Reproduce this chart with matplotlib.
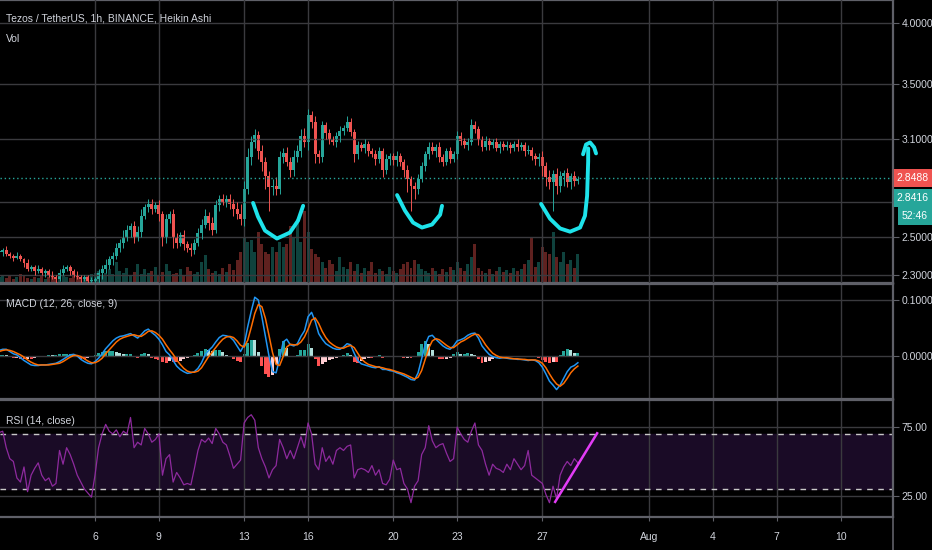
import numpy as np
import matplotlib
matplotlib.use('Agg')
from matplotlib import pyplot as plt
from matplotlib.lines import Line2D
from matplotlib.ticker import NullLocator

plt.rcParams['font.family'] = ['Liberation Sans', 'DejaVu Sans']

# ---- data (4h steps, x in day-of-July, Aug 1 = 32) ----
start_day = 1.5
step = 1 / 6

close = [2.42, 2.43, 2.41, 2.40, 2.39, 2.40, 2.38, 2.36, 2.33, 2.34,
         2.32, 2.33, 2.31, 2.32, 2.30, 2.29, 2.28, 2.31, 2.33, 2.34,
         2.32, 2.30, 2.29, 2.28, 2.29, 2.27, 2.27, 2.28, 2.31, 2.33,
         2.35, 2.38, 2.40, 2.44, 2.47, 2.50, 2.54, 2.56, 2.50, 2.53,
         2.62, 2.67, 2.69, 2.66, 2.68, 2.63, 2.50, 2.60, 2.63, 2.50,
         2.47, 2.51, 2.46, 2.44, 2.43, 2.47, 2.52, 2.57, 2.62, 2.58,
         2.54, 2.68, 2.72, 2.70, 2.72, 2.69, 2.66, 2.63, 2.60, 2.78,
         2.98, 3.08, 3.13, 3.02, 2.95, 2.86, 2.79, 2.80, 2.78, 2.98,
         3.01, 2.95, 2.90, 2.98, 3.02, 3.12, 3.08, 3.27, 3.22, 3.00,
         2.98, 3.20, 3.14, 3.10, 3.08, 3.12, 3.16, 3.18, 3.22, 3.15,
         3.00, 3.06, 3.04, 3.07, 3.02, 3.00, 2.97, 3.02, 2.90, 2.97,
         2.99, 2.96, 2.99, 2.95, 2.90, 2.84, 2.80, 2.78, 2.84, 2.92,
         3.00, 3.05, 3.02, 3.05, 2.98, 2.95, 3.02, 2.97, 3.00, 3.12,
         3.09, 3.06, 3.08, 3.20, 3.17, 3.10, 3.05, 3.09, 3.06, 3.08,
         3.04, 3.07, 3.05, 3.06, 3.04, 3.07, 3.05, 3.06, 3.02, 3.03,
         2.99, 2.97, 2.98, 2.92, 2.85, 2.82, 2.87, 2.80, 2.86, 2.88,
         2.82, 2.86, 2.83, 2.84]

# wick lengths above / below the body, in cents
wick_up = [1, 1, 2, 1, 1, 2, 1, 1, 2, 1, 1, 2, 1, 1, 1, 2, 1, 2, 2, 1, 1, 1, 2, 1, 1, 1, 2, 1,
           2, 2, 3, 2, 2, 3, 2, 4, 3, 2, 3, 3, 4, 2, 3, 3, 2, 3, 2, 3,
           2, 3, 2, 2, 3, 2, 3, 2, 3, 3, 4, 2, 3, 3, 2, 3, 2, 3, 3, 4, 6,
           5, 6, 4, 4, 3, 4, 3, 3, 4, 5, 4, 3,
           4, 3, 5, 4, 5, 6, 4, 3, 4, 3,
           3, 2, 3, 2, 3, 3, 2, 4, 3, 2, 3, 2, 3, 2, 2, 3, 3, 2, 3, 2,
           2, 3, 2, 2, 3, 2, 2, 3, 3, 2, 3, 3, 2, 3, 2, 2, 3, 2, 4, 3,
           2, 3, 4, 3, 2, 2, 3, 2, 2, 3, 2, 2, 3, 2, 2, 3, 2,
           2, 3, 2, 2, 3, 4, 3, 5, 3, 4, 3, 2, 3, 2, 3, 2]
wick_dn = [1, 2, 1, 1, 2, 1, 1, 2, 1, 1, 2, 1, 1, 2, 1, 1, 2, 1, 1, 1, 2, 1, 1, 2, 1, 1, 1, 2,
           2, 3, 2, 2, 3, 2, 2, 3, 2, 4, 3, 2, 3, 2, 3, 3, 2, 4, 5, 3, 2, 6,
           3, 2, 3, 2, 3, 2, 2, 3, 2, 4, 3, 2, 3, 2, 3, 3, 4, 3, 3,
           4, 3, 5, 4, 5, 6, 8, 14, 5, 4, 3, 4,
           3, 5, 4, 3, 4, 3, 5, 4, 6, 4,
           3, 4, 3, 2, 3, 4, 3, 2, 3, 5, 3, 2, 3, 3, 2, 4, 3, 5, 3, 4,
           3, 4, 3, 5, 8, 15, 6, 3, 2, 3, 3, 2, 4, 3, 3, 2, 3, 2, 3, 3,
           2, 3, 2, 3, 4, 3, 2, 3, 2, 2, 3, 2, 2, 3, 2, 3, 2,
           3, 2, 3, 4, 5, 6, 5, 4, 17, 5, 4, 6, 3, 4, 3, 2]

volume = [6, 8, 5, 7, 4, 6, 9, 7, 5, 4, 6, 5, 7, 4, 6, 8, 5, 4, 7, 6,
          5, 8, 6, 4, 5, 7, 9, 10,
          12, 8, 10, 14, 9, 20, 12, 10, 15, 8, 11, 18, 9, 14, 10, 12, 16, 8, 11, 18,
          12, 9, 10, 14, 8, 16, 12, 9, 11, 20, 27, 14, 10, 12, 9, 15, 11, 18, 13, 22, 30,
          45, 40, 42, 30, 50, 38, 30, 28, 35, 30, 40, 35,
          38, 55, 45, 62, 40, 70, 50, 33, 28, 25,
          20, 15, 22, 18, 12, 25, 16, 14, 20, 12, 18, 10, 15, 12, 20, 10, 14, 12, 9, 16,
          12, 10, 14, 18, 20, 15, 22, 18, 14, 12, 10, 15, 12, 9, 14, 11, 16, 13, 20, 15,
          12, 18, 25, 38, 15, 12, 10, 14, 9, 12, 16, 11, 13, 10, 15, 12, 14,
          18, 22, 45, 16, 20, 35, 30, 28, 50, 25, 20, 30, 18, 22, 15, 28]

macd = [10, 12, 12, 8, 4, 2, -3, -8, -12, -16, -17, -17, -16, -16, -15, -14, -13, -10, -6, -2,
        2, 3, 0, -6, -10, -13, -14, -10, -4, 4, 13, 20, 27, 32, 35, 36, 38, 40, 36, 32,
        38, 45, 48, 42, 37, 30, 20, 8, 2, -8, -18, -24, -28, -31, -30, -28, -22, -12, 2, 10,
        16, 25, 33, 37, 36, 34, 28, 18, 8, 20, 52, 80, 105, 100, 70, 35, 0, -28, -30, -5,
        25, 30, 20, 18, 22, 35, 45, 70, 78, 62, 40, 30, 22, 18, 14, 12, 12, 16, 22, 20,
        5, -8, -14, -16, -18, -20, -21, -19, -24, -24, -26, -27, -30, -32, -35, -38, -42, -43, -30, -5,
        20, 35, 37, 30, 24, 18, 14, 12, 18, 27, 29, 32, 37, 40, 41, 32, 18, 10, 3, -1,
        -3, -4, -3, -4, -5, -5, -6, -6, -7, -8, -7, -8, -12, -20, -32, -45, -52, -60, -52, -40,
        -28, -20, -17, -12]

signal = [8, 10, 11, 10, 8, 5, 2, -2, -7, -11, -14, -16, -16, -16, -16, -15, -14, -13, -10, -6,
          -2, 1, 1, -1, -5, -9, -12, -12, -9, -4, 4, 11, 18, 25, 30, 33, 35, 37, 38, 36,
          35, 39, 44, 45, 42, 37, 30, 20, 11, 3, -7, -15, -22, -27, -29, -29, -27, -21, -11, -1,
          7, 15, 23, 30, 34, 35, 33, 27, 19, 16, 28, 51, 76, 92, 88, 67, 37, 6, -15, -17,
          -1, 16, 21, 20, 20, 25, 34, 48, 64, 68, 58, 44, 33, 25, 20, 16, 14, 14, 17, 19,
          15, 5, -5, -11, -15, -17, -19, -20, -21, -23, -24, -26, -28, -30, -32, -35, -38, -41, -38, -26,
          -6, 14, 27, 31, 29, 24, 19, 15, 15, 20, 25, 28, 32, 36, 39, 38, 30, 20, 12, 5,
          1, -2, -3, -3, -4, -5, -5, -6, -6, -7, -7, -7, -9, -13, -21, -32, -42, -50, -54, -49,
          -40, -30, -23, -18]

rsi = [71, 72, 60, 52, 50, 38, 35, 46, 28, 40, 45, 49, 40, 36, 38, 32, 34, 58, 48, 60,
       55, 48, 40, 35, 30, 27, 24, 40, 60, 70, 77, 72, 70, 73, 68, 72, 70, 82, 60, 64,
       62, 74, 70, 64, 66, 70, 40, 52, 55, 35, 42, 38, 33, 34, 33, 45, 58, 66, 64, 67,
       63, 74, 70, 64, 62, 54, 45, 48, 51, 78, 82, 84, 80, 60, 52, 46, 38, 44, 47, 66,
       60, 52, 58, 52, 60, 68, 60, 78, 70, 48, 44, 60, 50, 54, 48, 58, 60, 58, 61, 62,
       38, 44, 45, 44, 42, 47, 40, 44, 34, 33, 37, 51, 44, 45, 34, 30, 20, 32, 36, 55,
       60, 76, 65, 60, 62, 63, 56, 50, 52, 75, 70, 66, 64, 72, 78, 62, 58, 48, 40, 48,
       45, 44, 42, 48, 44, 52, 48, 44, 47, 58, 40, 38, 36, 34, 26, 20, 32, 23, 40, 46,
       50, 47, 52, 49]

last_price = 2.8488
ha_last = 2.8416
countdown = '52:46'

# hand drawn annotations (day, price)
arc1_day = [13.42, 13.65, 13.98, 14.54, 15.15, 15.53, 15.77]
arc1_px = [2.695, 2.615, 2.536, 2.492, 2.525, 2.592, 2.678]
arc2_day = [20.18, 20.55, 20.93, 21.35, 21.82, 22.2, 22.29]
arc2_px = [2.742, 2.65, 2.581, 2.553, 2.57, 2.626, 2.678]
arc3_day = [26.94, 27.36, 27.83, 28.3, 28.77, 29.0, 29.1, 29.15, 29.15]
arc3_px = [2.689, 2.603, 2.548, 2.53, 2.553, 2.62, 2.737, 2.953, 3.038]
cap_day = [28.91, 29.05, 29.24, 29.43, 29.52]
cap_px = [2.999, 3.064, 3.078, 3.045, 3.005]
rsi_line_day = [27.6, 29.57]
rsi_line_val = [20.6, 70.5]

price_ticks = [2.3, 2.5, 2.7, 3.1, 3.5, 4.0]
price_labels = ['2.3000', '2.5000', '', '3.1000', '3.5000', '4.0000']
date_ticks = [6, 9, 13, 16, 20, 23, 27, 32, 35, 38, 41]
date_labels = ['6', '9', '13', '16', '20', '23', '27', 'Aug', '4', '7', '10']

# ---- style ----
BG = '#000000'
GRID = '#3a3a3e'
SEP = '#5f6068'
TXT = '#d1d4dc'
UP = '#26a69a'
DOWN = '#ef5350'
FS = 7.5
BAR_W = 0.14

close = np.array(close)
volume = np.array(volume, dtype=float)
macd = np.array(macd) / 1000
signal = np.array(signal) / 1000
hist = macd - signal
rsi = np.array(rsi, dtype=float)
n = len(close)
days = start_day + np.arange(n) * step

opens = np.concatenate([[close[0]], close[:-1]])
up = close >= opens
cndl_colors = np.where(up, UP, DOWN)
body_lo = np.minimum(opens, close)
body_hi = np.maximum(opens, close)
highs = body_hi + np.array(wick_up) / 100
lows = body_lo - np.array(wick_dn) / 100

W, H = 932, 550
fig = plt.figure(figsize=(W / 100, H / 100), dpi=100, facecolor=BG)
right = 893 / W


def pane(top_px, bot_px, sharex=None):
    a = fig.add_axes([0, 1 - bot_px / H, right, (bot_px - top_px) / H], sharex=sharex)
    a.set_facecolor(BG)
    a.spines['left'].set_visible(False)
    for s in ['top', 'bottom', 'right']:
        a.spines[s].set_color(SEP)
        a.spines[s].set_linewidth(1.6)
    a.yaxis.tick_right()
    a.tick_params(axis='y', colors=SEP, labelcolor=TXT, labelsize=FS, length=4, pad=2)
    a.tick_params(axis='x', colors=SEP, labelcolor=TXT, labelsize=FS, length=3, pad=8)
    a.grid(True, color=GRID, linewidth=1)
    return a


# price pane with volume underneath
ax_vol = pane(0, 283)
ax_vol.set_yticks([])
ax_vol.grid(False)
ax_vol.bar(days, volume, width=BAR_W, color=cndl_colors, alpha=0.4, linewidth=0)
ax_vol.set_ylim(0, volume.max() * 283 / 72)

ax = fig.add_axes(ax_vol.get_position(), sharex=ax_vol)
ax.patch.set_visible(False)
for s in ax.spines.values():
    s.set_visible(False)
ax.set_yscale('log')
ax.set_ylim(2.26, 4.21)
ax.yaxis.tick_right()
ax.set_yticks(price_ticks)
ax.set_yticklabels(price_labels)
ax.yaxis.set_minor_locator(NullLocator())
ax.tick_params(axis='y', colors=SEP, labelcolor=TXT, labelsize=FS, length=4, pad=2)
ax.grid(True, color=GRID, linewidth=1)

ax.vlines(days, lows, highs, color=cndl_colors, linewidth=0.7)
ax.bar(days, np.maximum(body_hi - body_lo, 0.004), bottom=body_lo, width=BAR_W,
       color=cndl_colors, linewidth=0)
ax.axhline(last_price, color=UP, linestyle=(0, (1, 2)), linewidth=1)

cyan = '#1ee3ea'
for dx, py in [(arc1_day, arc1_px), (arc2_day, arc2_px), (arc3_day, arc3_px), (cap_day, cap_px)]:
    ax.plot(dx, py, color=cyan, linewidth=2.8, solid_capstyle='round', solid_joinstyle='round')

ax.text(0.007, 0.935, 'Tezos / TetherUS, 1h, BINANCE, Heikin Ashi', transform=ax.transAxes,
        color=TXT, fontsize=FS, va='center', ha='left')
ax.text(0.007, 0.862, 'Vol', transform=ax.transAxes, color=TXT, fontsize=FS,
        va='center', ha='left')

box = dict(boxstyle='square,pad=0.4', ec='none')
ax.annotate(f'{last_price:.4f}', xy=(1.0, last_price), xycoords=('axes fraction', 'data'),
            xytext=(3, 0), textcoords='offset pixels', ha='left', va='center', color='white',
            fontsize=FS, bbox=dict(box, fc=DOWN), annotation_clip=False, zorder=10)
ax.annotate(f'{ha_last:.4f}', xy=(1.0, last_price), xycoords=('axes fraction', 'data'),
            xytext=(3, -20), textcoords='offset pixels', ha='left', va='center', color='white',
            fontsize=FS, bbox=dict(box, fc=UP), annotation_clip=False, zorder=10)
ax.annotate(countdown, xy=(1.0, last_price), xycoords=('axes fraction', 'data'),
            xytext=(9, -38), textcoords='offset pixels', ha='left', va='center', color='white',
            fontsize=FS, bbox=dict(box, fc=UP), annotation_clip=False, zorder=10)

# MACD pane
ax_m = pane(284, 399, sharex=ax_vol)
ax_m.set_ylim(-0.0768, 0.1286)
ax_m.set_yticks([0.0, 0.1])
ax_m.set_yticklabels(['0.0000', '0.1000'])
prev = np.concatenate([[hist[0]], hist[:-1]])
h_colors = np.where(hist >= 0, np.where(hist >= prev, '#26a69a', '#b2dfdb'),
                    np.where(hist <= prev, '#ff5252', '#ffcdd2'))
ax_m.bar(days, hist, width=BAR_W, color=h_colors, linewidth=0)
ax_m.plot(days, macd, color='#2196f3', linewidth=1.1)
ax_m.plot(days, signal, color='#ff6d00', linewidth=1.1)
ax_m.text(0.007, 0.83, 'MACD (12, 26, close, 9)', transform=ax_m.transAxes, color=TXT,
          fontsize=FS, va='center', ha='left')

# RSI pane
ax_r = pane(400, 517, sharex=ax_vol)
ax_r.set_ylim(9.6, 94.7)
ax_r.set_yticks([25, 75])
ax_r.set_yticklabels(['25.00', '75.00'])
ax_r.axhspan(30, 70, color='#1a0b26', zorder=0)
ax_r.axhline(70, color='#c8c8c8', linestyle=(0, (4, 4)), linewidth=1)
ax_r.axhline(30, color='#c8c8c8', linestyle=(0, (4, 4)), linewidth=1)
ax_r.plot(days, rsi, color='#8e2a9e', linewidth=0.9)
ax_r.plot(rsi_line_day, rsi_line_val, color='#e23cf5', linewidth=1.8)
ax_r.text(0.007, 0.82, 'RSI (14, close)', transform=ax_r.transAxes, color=TXT,
          fontsize=FS, va='center', ha='left')

ax_r.set_xlim(1.54, 43.46)
ax_r.set_xticks(date_ticks)
ax_r.set_xticklabels(date_labels)
for a in (ax_vol, ax, ax_m):
    a.tick_params(axis='x', labelbottom=False, length=0)

fig.add_artist(Line2D([right, right], [0, 1], transform=fig.transFigure, color=SEP, linewidth=1.2))

fig.savefig('out.png', dpi=100, facecolor=BG)
